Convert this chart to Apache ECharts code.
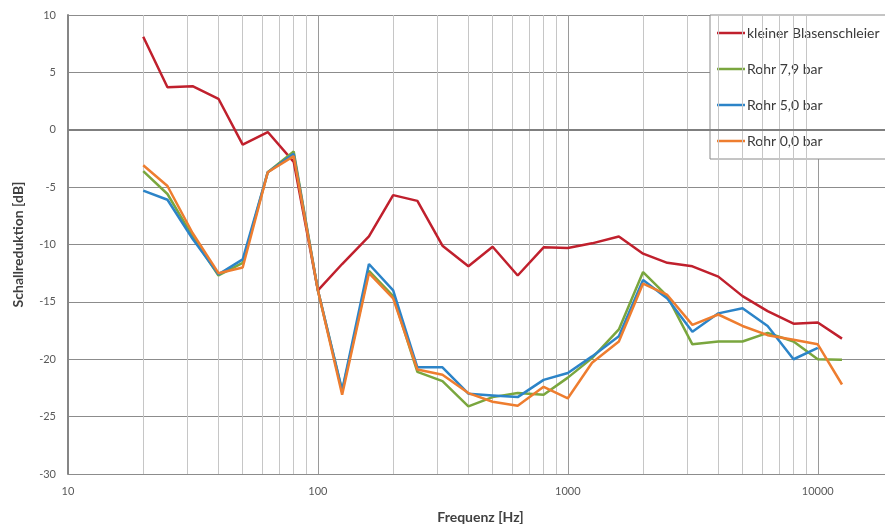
<!DOCTYPE html>
<html>
<head>
<meta charset="utf-8">
<script src="https://cdn.jsdelivr.net/npm/echarts@6/dist/echarts.min.js"></script>
<style>
  html, body { margin: 0; padding: 0; background: #fff; }
  #chart { width: 885px; height: 527px; }
</style>
</head>
<body>
<div id="chart"></div>
<script>
// Third-octave band centre frequencies [Hz]
const freqs = [20, 25, 31.5, 40, 50, 63, 80, 100, 125, 160, 200, 250, 315, 400, 500, 630, 800,
  1000, 1250, 1600, 2000, 2500, 3150, 4000, 5000, 6300, 8000, 10000, 12500];

// Sound reduction per band [dB]
const kleinerBlasenschleier = [8.1, 3.7, 3.8, 2.7, -1.3, -0.2, -2.8, -14.0, -11.7, -9.3, -5.7, -6.2, -10.1, -11.9, -10.2, -12.7, -10.25,
  -10.3, -9.9, -9.3, -10.8, -11.6, -11.9, -12.8, -14.5, -15.8, -16.9, -16.8, -18.2];
const rohr79 = [-3.6, -5.6, -9.3, -12.7, -11.6, -3.7, -1.9, -14.0, -22.8, -12.3, -14.5, -21.1, -21.9, -24.1, -23.3, -22.95, -23.1,
  -21.6, -19.9, -17.4, -12.4, -14.5, -18.7, -18.45, -18.45, -17.7, -18.45, -20.0, -20.05];
const rohr50 = [-5.3, -6.1, -9.5, -12.6, -11.3, -3.7, -2.1, -14.0, -22.7, -11.7, -14.0, -20.7, -20.7, -23.0, -23.15, -23.3, -21.8,
  -21.2, -19.75, -18.0, -13.1, -14.7, -17.6, -16.0, -15.55, -17.1, -20.0, -19.0, null];
const rohr00 = [-3.1, -4.9, -9.0, -12.5, -12.0, -3.7, -2.3, -14.0, -23.1, -12.5, -14.7, -20.9, -21.35, -22.95, -23.7, -24.05, -22.4,
  -23.4, -20.3, -18.45, -13.4, -14.4, -17.0, -16.1, -17.1, -17.9, -18.3, -18.7, -22.2];

const seriesNames = ['kleiner Blasenschleier', 'Rohr 7,9 bar', 'Rohr 5,0 bar', 'Rohr 0,0 bar'];
const seriesValues = [kleinerBlasenschleier, rohr79, rohr50, rohr00];
const seriesColors = ['#c0202d', '#7aa63e', '#2c84c8', '#ee7d2f'];

// Intermediate frequencies for the minor vertical grid lines
const minorGrid = [];
[10, 100, 1000, 10000].forEach(function (decade) {
  for (let k = 2; k <= 9; k++) minorGrid.push(decade * k);
});

const FONT = 'Lato, "Open Sans", sans-serif';

const chart = echarts.init(document.getElementById('chart'), null, { renderer: 'canvas' });

const lineSeries = seriesNames.map(function (name, i) {
  return {
    name: name,
    type: 'line',
    symbol: 'none',
    smooth: false,
    connectNulls: false,
    z: 5 + i,
    color: seriesColors[i],
    lineStyle: { width: 2.5, color: seriesColors[i] },
    data: freqs.map(function (f, j) { return [f, seriesValues[i][j]]; })
  };
});

chart.setOption({
  animation: false,
  backgroundColor: '#ffffff',
  textStyle: { fontFamily: FONT },
  grid: { left: 68, top: 15, right: -8, bottom: 53, containLabel: false, outerBoundsMode: 'none' },
  legend: {
    data: seriesNames,
    orient: 'vertical',
    left: 710,
    top: 15,
    padding: [11, 60, 11, 7],
    itemGap: 22,
    itemWidth: 28,
    itemHeight: 2.5,
    icon: 'rect',
    backgroundColor: '#ffffff',
    borderColor: '#8a8a8a',
    borderWidth: 1,
    textStyle: { fontFamily: FONT, fontSize: 14, color: '#3a3a3a', padding: [0, 0, 0, -3] }
  },
  xAxis: {
    type: 'log',
    logBase: 10,
    min: 10,
    max: 20000,
    name: 'Frequenz [Hz]',
    nameLocation: 'middle',
    nameGap: 36,
    nameTextStyle: { fontFamily: FONT, fontSize: 14, fontWeight: 'bold', color: '#404040' },
    axisLine: { show: false },
    axisTick: { show: false },
    axisLabel: {
      fontFamily: FONT, fontSize: 11, color: '#595959', margin: 12, showMaxLabel: false,
      formatter: function (v) { return String(v); }
    },
    splitLine: { show: true, lineStyle: { color: '#9a9a9a', width: 1 } }
  },
  yAxis: {
    type: 'value',
    min: -30,
    max: 10,
    interval: 5,
    name: 'Schallreduktion [dB]',
    nameLocation: 'middle',
    nameGap: 43,
    nameTextStyle: { fontFamily: FONT, fontSize: 14, fontWeight: 'bold', color: '#404040' },
    axisLine: { show: true, lineStyle: { color: '#868686', width: 2 } },
    axisTick: { show: false },
    axisLabel: { fontFamily: FONT, fontSize: 11, color: '#595959', margin: 12 },
    splitLine: { show: true, lineStyle: { color: '#8c8c8c', width: 1 } }
  },
  series: [
    {
      name: 'grid',
      type: 'line',
      data: [],
      silent: true,
      z: 1,
      markLine: {
        silent: true,
        symbol: 'none',
        label: { show: false },
        animation: false,
        lineStyle: { type: 'solid', color: '#c6c6c6', width: 1 },
        data: minorGrid.map(function (f) { return { xAxis: f }; }).concat([
          { yAxis: 0, lineStyle: { color: '#7f7f7f', width: 2.2, type: 'solid' } }
        ])
      }
    }
  ].concat(lineSeries)
});
</script>
</body>
</html>
